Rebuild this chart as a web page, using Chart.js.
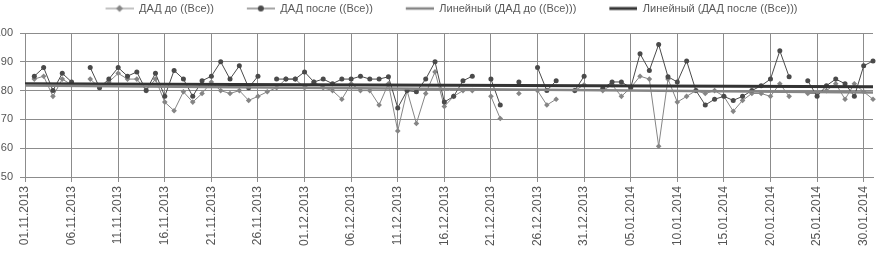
<!DOCTYPE html>
<html>
<head>
<meta charset="utf-8">
<script src="https://cdn.jsdelivr.net/npm/chart.js@4"></script>
<style>
  html, body { margin: 0; padding: 0; background: #fff; }
</style>
</head>
<body>
<canvas id="chart" width="879" height="259"></canvas>
<script>
const dates = [
  '01.11.2013','02.11.2013','03.11.2013','04.11.2013','05.11.2013','06.11.2013','07.11.2013','08.11.2013','09.11.2013','10.11.2013',
  '11.11.2013','12.11.2013','13.11.2013','14.11.2013','15.11.2013','16.11.2013','17.11.2013','18.11.2013','19.11.2013','20.11.2013',
  '21.11.2013','22.11.2013','23.11.2013','24.11.2013','25.11.2013','26.11.2013','27.11.2013','28.11.2013','29.11.2013','30.11.2013',
  '01.12.2013','02.12.2013','03.12.2013','04.12.2013','05.12.2013','06.12.2013','07.12.2013','08.12.2013','09.12.2013','10.12.2013',
  '11.12.2013','12.12.2013','13.12.2013','14.12.2013','15.12.2013','16.12.2013','17.12.2013','18.12.2013','19.12.2013','20.12.2013',
  '21.12.2013','22.12.2013','23.12.2013','24.12.2013','25.12.2013','26.12.2013','27.12.2013','28.12.2013','29.12.2013','30.12.2013',
  '31.12.2013','01.01.2014','02.01.2014','03.01.2014','04.01.2014','05.01.2014','06.01.2014','07.01.2014','08.01.2014','09.01.2014',
  '10.01.2014','11.01.2014','12.01.2014','13.01.2014','14.01.2014','15.01.2014','16.01.2014','17.01.2014','18.01.2014','19.01.2014',
  '20.01.2014','21.01.2014','22.01.2014','23.01.2014','24.01.2014','25.01.2014','26.01.2014','27.01.2014','28.01.2014','29.01.2014',
  '30.01.2014','31.01.2014'
];

// ДАД до ((Все))
const dadBefore = [
  null, 84, 85, 78, 84, 82, null, 84, 81, 83,
  86, 84, 84, 80, 84, 76, 73, 79.6, 76, 79,
  83, 80, 79, 80, 76.6, 78, 79.6, 81, 84, 84,
  81, 83, 81, 80, 77, 82.4, 80, 80, 75, 82.4,
  66, 80, 68.6, 79, 86.5, 74.5, 78, 80, 80, null,
  78, 70.3, null, 79, null, 80, 75, 77, null, 80,
  82, null, 80, 82, 78, 81, 85, 84, 60.7, 84,
  76, 78, 80, 79, 80, 78, 72.8, 76.6, 79, 79,
  78, 82.4, 78, null, 79, 79, 80, 82.4, 77, 82.4,
  79.6, 77
];

// ДАД после ((Все))
const dadAfter = [
  null, 85, 88, 80, 86, 83, null, 88, 81, 84,
  88, 85, 86.5, 80, 86, 78, 87, 84, 78, 83.4,
  85, 90, 84, 88.6, 81, 85, null, 84, 84, 84,
  86.5, 83, 84, 82.4, 84, 84, 85, 84, 84, 84.8,
  74, 80, 79.6, 84, 90, 76, 78, 83.4, 85, null,
  84, 75, null, 83, null, 88, 80, 83.4, null, 80,
  85, null, 80.7, 83, 83, 81, 92.8, 87, 96, 84.8,
  83, 90.3, 80, 75, 77, 78, 76.6, 78, 80, 81.7,
  84, 93.8, 84.8, null, 83.4, 78, 81.7, 84, 82.4, 78,
  88.6, 90.3
];

// линейные тренды: значения на первую и последнюю дату
const trendBefore = [81.8, 79.3];
const trendAfter = [82.4, 81.3];

const legendNames = [
  'ДАД до ((Все))',
  'ДАД после ((Все))',
  'Линейный (ДАД до ((Все)))',
  'Линейный (ДАД после ((Все)))'
];

const GREY = '#858585';
const DARK = '#4a4a4a';
const TREND_DARK = '#333333';
const GRID = '#8c8c8c';

const last = dates.length - 1;
const trendData = t => dates.map((_, i) => i === 0 ? t[0] : (i === last ? t[1] : null));

function legendIcon(color, width, marker) {
  const c = document.createElement('canvas');
  c.width = 58; c.height = 10;
  const g = c.getContext('2d');
  g.strokeStyle = color;
  g.fillStyle = color;
  g.lineWidth = width;
  g.beginPath(); g.moveTo(30, 5); g.lineTo(58, 5); g.stroke();
  if (marker === 'diamond') {
    g.beginPath(); g.moveTo(44, 1.5); g.lineTo(47.5, 5); g.lineTo(44, 8.5); g.lineTo(40.5, 5); g.closePath(); g.fill();
  } else if (marker === 'circle') {
    g.beginPath(); g.arc(44, 5, 3, 0, Math.PI * 2); g.fill();
  }
  return c;
}

const icons = [
  legendIcon(GREY, 1, 'diamond'),
  legendIcon(DARK, 1, 'circle'),
  legendIcon(GREY, 2.5),
  legendIcon(TREND_DARK, 3)
];

// лишние пиксели под легендой, как в оригинале
const legendGap = {
  id: 'legendGap',
  beforeInit(chart) {
    const fit = chart.legend.fit;
    chart.legend.fit = function () {
      fit.call(this);
      this.height += 9;
    };
  }
};

new Chart(document.getElementById('chart'), {
  type: 'line',
  data: {
    labels: dates,
    datasets: [
      {
        label: legendNames[0],
        data: dadBefore,
        borderColor: GREY,
        backgroundColor: GREY,
        borderWidth: 1,
        pointStyle: 'rectRot',
        pointRadius: 2.8,
        pointBorderWidth: 0,
        spanGaps: false,
        order: 2
      },
      {
        label: legendNames[1],
        data: dadAfter,
        borderColor: DARK,
        backgroundColor: DARK,
        borderWidth: 1,
        pointStyle: 'circle',
        pointRadius: 2.5,
        pointBorderWidth: 0,
        spanGaps: false,
        order: 1
      },
      {
        label: legendNames[2],
        data: trendData(trendBefore),
        borderColor: GREY,
        borderWidth: 2.5,
        pointRadius: 0,
        spanGaps: true,
        order: 0
      },
      {
        label: legendNames[3],
        data: trendData(trendAfter),
        borderColor: TREND_DARK,
        borderWidth: 3,
        pointRadius: 0,
        spanGaps: true,
        order: 0
      }
    ]
  },
  options: {
    responsive: false,
    animation: false,
    devicePixelRatio: 1,
    layout: { padding: { top: 0, right: 6, left: 0, bottom: 0 } },
    plugins: {
      tooltip: { enabled: false },
      legend: {
        position: 'top',
        labels: {
          usePointStyle: true,
          pointStyleWidth: 58,
          padding: 3,
          color: '#595959',
          font: { family: 'Liberation Sans', size: 11 },
          generateLabels: () => legendNames.map((text, i) => ({
            text,
            pointStyle: icons[i],
            datasetIndex: i,
            hidden: false,
            fontColor: '#595959',
            lineWidth: 0,
            strokeStyle: 'transparent',
            fillStyle: 'transparent'
          }))
        }
      }
    },
    scales: {
      x: {
        offset: false,
        border: { color: GRID },
        grid: {
          color: c => c.index % 5 === 0 ? GRID : 'transparent',
          tickLength: 5
        },
        ticks: {
          autoSkip: false,
          maxRotation: 90,
          minRotation: 90,
          padding: 4,
          color: '#555',
          font: { family: 'Liberation Sans', size: 12 },
          callback: (v, i) => i % 5 === 0 ? dates[i] : ''
        },
        afterFit: s => { s.height = 82; s.paddingRight = 0; }
      },
      y: {
        min: 50,
        max: 100,
        border: { color: GRID },
        grid: { color: GRID, tickLength: 5 },
        ticks: {
          stepSize: 10,
          padding: 7,
          color: '#555',
          font: { family: 'Liberation Sans', size: 11 }
        },
        afterFit: s => { s.width = 25; }
      }
    }
  },
  plugins: [legendGap]
});
</script>
</body>
</html>
